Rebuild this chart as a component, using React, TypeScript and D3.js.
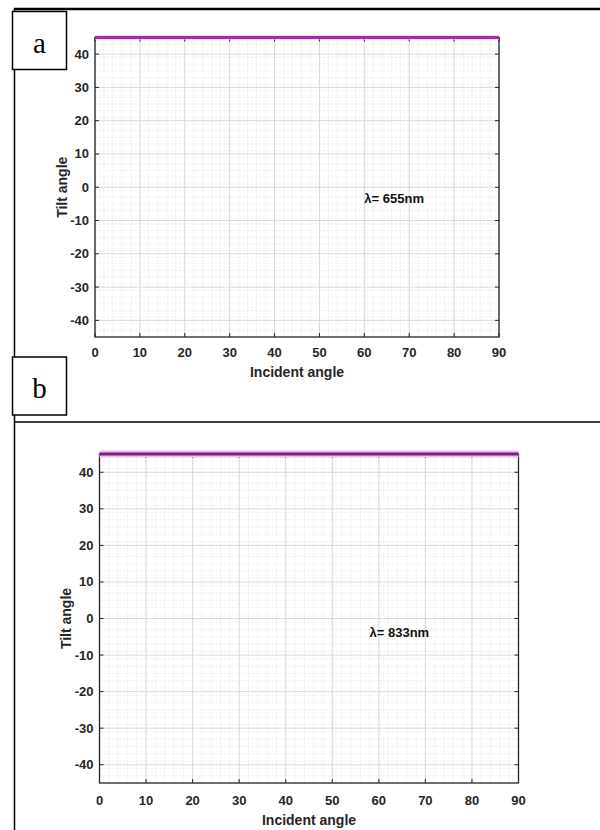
import React from "react";
import * as d3 from "d3";

// Tilt angle versus incident angle, two wavelengths
const incidentAngle = [0, 10, 20, 30, 40, 50, 60, 70, 80, 90];
const tilt655 = [45, 45, 45, 45, 45, 45, 45, 45, 45, 45];
const tilt833 = [45, 45, 45, 45, 45, 45, 45, 45, 45, 45];
const xTicks = [0, 10, 20, 30, 40, 50, 60, 70, 80, 90];
const yTicks = [-40, -30, -20, -10, 0, 10, 20, 30, 40];
const xDomain = [0, 90];
const yDomain = [-45, 45];

const FONT = "'Liberation Sans', Arial, Helvetica, sans-serif";
const AXIS = "#262626";

type PanelProps = {
  left: number;
  right: number;
  top: number;
  bottom: number;
  values: number[];
  label: string;
  labelAt: [number, number];
  yLabelX: number;
  tickLabelGap: number;
  glow: string;
  lineColor: string;
  glowWidth: number;
};

function Panel(p: PanelProps) {
  const x = d3.scaleLinear().domain(xDomain).range([p.left, p.right]);
  const y = d3.scaleLinear().domain(yDomain).range([p.bottom, p.top]);
  const minorX = d3.range(xDomain[0], xDomain[1] + 0.01, 2);
  const minorY = d3.range(yDomain[0], yDomain[1] + 0.01, 2);
  const line = d3
    .line<number>()
    .x((_, i) => x(incidentAngle[i]))
    .y((d) => y(d));
  const path = line(p.values) || "";
  const tk = 4;

  return (
    <g>
      <rect x={p.left} y={p.top} width={p.right - p.left} height={p.bottom - p.top} fill="#ffffff" />
      {/* minor grid */}
      {minorX.map((v) => (
        <line key={"mx" + v} x1={x(v)} x2={x(v)} y1={p.top} y2={p.bottom}
          stroke="#e6e6e6" strokeWidth={0.8} strokeDasharray="1.5,1.5" />
      ))}
      {minorY.map((v) => (
        <line key={"my" + v} x1={p.left} x2={p.right} y1={y(v)} y2={y(v)}
          stroke="#e6e6e6" strokeWidth={0.8} strokeDasharray="2,2" />
      ))}
      {/* major grid */}
      {xTicks.map((v) => (
        <line key={"gx" + v} x1={x(v)} x2={x(v)} y1={p.top} y2={p.bottom} stroke="#d9d9d9" strokeWidth={1} />
      ))}
      {yTicks.map((v) => (
        <line key={"gy" + v} x1={p.left} x2={p.right} y1={y(v)} y2={y(v)} stroke="#d9d9d9" strokeWidth={1} />
      ))}
      {/* axes box */}
      <rect x={p.left} y={p.top} width={p.right - p.left} height={p.bottom - p.top}
        fill="none" stroke={AXIS} strokeWidth={1.3} />
      {xTicks.map((v) => (
        <g key={"tx" + v}>
          <line x1={x(v)} x2={x(v)} y1={p.bottom} y2={p.bottom - tk} stroke={AXIS} strokeWidth={1} />
          <line x1={x(v)} x2={x(v)} y1={p.top} y2={p.top + tk} stroke={AXIS} strokeWidth={1} />
          <text x={x(v)} y={p.bottom + p.tickLabelGap} textAnchor="middle" fontFamily={FONT}
            fontWeight="bold" fontSize={13} fill={AXIS}>{v}</text>
        </g>
      ))}
      {yTicks.map((v) => (
        <g key={"ty" + v}>
          <line x1={p.left} x2={p.left + tk} y1={y(v)} y2={y(v)} stroke={AXIS} strokeWidth={1} />
          <line x1={p.right} x2={p.right - tk} y1={y(v)} y2={y(v)} stroke={AXIS} strokeWidth={1} />
          <text x={p.left - 6} y={y(v) + 4.5} textAnchor="end" fontFamily={FONT}
            fontWeight="bold" fontSize={13} fill={AXIS}>{v}</text>
        </g>
      ))}
      {/* data line */}
      <path d={path} fill="none" stroke={p.glow} strokeWidth={p.glowWidth} />
      <path d={path} fill="none" stroke={p.lineColor} strokeWidth={3} />
      {/* axis titles */}
      <text x={(p.left + p.right) / 2} y={p.bottom + p.tickLabelGap + 20} textAnchor="middle"
        fontFamily={FONT} fontWeight="bold" fontSize={14} fill={AXIS}>Incident angle</text>
      <text transform={`translate(${p.yLabelX},${(p.top + p.bottom) / 2}) rotate(-90)`} textAnchor="middle"
        fontFamily={FONT} fontWeight="bold" fontSize={14} fill={AXIS}>Tilt angle</text>
      <text x={x(p.labelAt[0])} y={y(p.labelAt[1])} fontFamily={FONT} fontWeight="bold"
        fontSize={13} fill="#111111">{p.label}</text>
    </g>
  );
}

function LetterBox({ x, y, letter }: { x: number; y: number; letter: string }) {
  return (
    <g>
      <rect x={x} y={y} width={54} height={58} fill="#ffffff" stroke="#000000" strokeWidth={1.5} />
      <text x={x + 27} y={y + 41} textAnchor="middle" fontFamily="'Liberation Serif', 'Times New Roman', serif"
        fontSize={29} fill="#000000">{letter}</text>
    </g>
  );
}

export default function App() {
  return (
    <svg width={600} height={830} style={{ position: "absolute", left: 0, top: 0, background: "#ffffff" }}>
      <rect width={600} height={830} fill="#ffffff" />
      {/* table rules */}
      <line x1={14} x2={600} y1={9} y2={9} stroke="#000" strokeWidth={2.5} />
      <line x1={14.5} x2={14.5} y1={8} y2={830} stroke="#000" strokeWidth={1.5} />
      <line x1={14} x2={600} y1={422} y2={422} stroke="#000" strokeWidth={1.5} />

      <Panel left={95} right={499} top={37.5} bottom={337} values={tilt655} label="λ= 655nm"
        labelAt={[60, -4.8]} yLabelX={67} tickLabelGap={20} glow="#f3c6f0" lineColor="#b31fb3" glowWidth={4} />
      <Panel left={99.5} right={518.5} top={454} bottom={783} values={tilt833} label="λ= 833nm"
        labelAt={[58, -5]} yLabelX={71} tickLabelGap={22} glow="#f6b8f2" lineColor="#74276f" glowWidth={7} />

      <LetterBox x={12.5} y={11.5} letter="a" />
      <LetterBox x={12.5} y={357} letter="b" />
    </svg>
  );
}
